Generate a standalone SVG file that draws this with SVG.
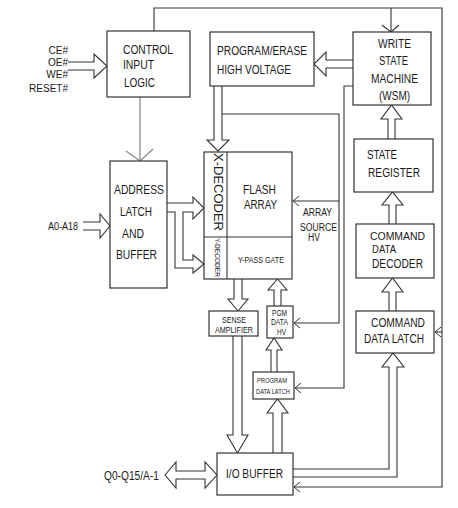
<svg xmlns="http://www.w3.org/2000/svg" width="458" height="508" viewBox="0 0 458 508">
<style>
.box{fill:#fff;stroke:#333;stroke-width:1.2}
.ha{fill:#fff;stroke:#333;stroke-width:1.1;stroke-linejoin:miter}
.ln{fill:none;stroke:#333;stroke-width:1.1}
.lg{fill:none;stroke:#8a8a8a;stroke-width:1.3}
text{font-family:"Liberation Sans",Arial,sans-serif;fill:#1a1a1a}
.b{font-size:12.5px}
.b2{font-size:11.5px}
.m{font-size:10px}
.s{font-size:8.5px}
.xs{font-size:7px}
</style>
<defs>
<marker id="oa" viewBox="-7 -6 8 12" refX="0" refY="0" markerWidth="8" markerHeight="12" markerUnits="userSpaceOnUse" orient="auto">
<path d="M-6,-5 L0,0 L-6,5" fill="none" stroke="#333" stroke-width="1"/>
</marker>
</defs>
<rect width="458" height="508" fill="#fff"/>

<g id="connectors">
<path class="ln" d="M154,31 V8 H442 V487 H294" marker-end="url(#oa)"/>
<path class="ln" d="M391,8 V31"/>
<polyline class="ln" points="382,25 391,32 399,25"/>
<path class="lg" d="M140,97 V160"/>
<polyline class="lg" points="126,151 140,161 153,149"/>
<path class="ln" d="M222,114 H339 V323 H294" marker-end="url(#oa)"/>
<path class="ln" d="M339,201 H293" marker-end="url(#oa)"/>
<path class="ln" d="M353,86 H344 V388 H295" marker-end="url(#oa)"/>
<path class="ln" d="M442,332 H435" marker-end="url(#oa)"/>
<path class="ha" d="M68,62 H94 V54 L107,66 L94,78 V70 H68"/>
<path class="ha" d="M353,60 H326 V52 L314,64 L326,76 V68 H353"/>
<path class="ha" d="M214,86 V140 H207 L218,151 L229,140 H222 V86"/>
<path class="ha" d="M83,222 H100 V214 L110,226 L100,238 V230 H83"/>
<path class="ha" d="M167,203 H193 V197 L204,208 L193,219 V212 H183 V260 H193 V255 L204,264 L193,273 V268 H175 V212 H167"/>
<path class="ha" d="M234,279 V299 H228 L238,311 L248,299 H242 V279"/>
<path class="ha" d="M274,306 V290 H268 L277.5,279 L287,290 H281 V306"/>
<path class="ha" d="M271,372 V350 H266 L274,338 L282,350 H277 V372"/>
<path class="ha" d="M273,453 V413 H267 L277.5,399 L288,413 H282 V453"/>
<path class="ha" d="M233,336 V435 H227 L237.5,453 L248,435 H242 V336"/>
<path class="ha" d="M165,475 L176,462 V471 H205 V462 L217,475 L205,488 V479 H176 V488 Z"/>
<path class="ha" d="M293,469 H389 V367 H382 L393,353 L404,367 H397 V477 H293"/>
<path class="ha" d="M389,311 V292 H382 L392.5,278 L403,292 H396 V311"/>
<path class="ha" d="M389,224 V205 H382 L392.5,192 L403,205 H396 V224"/>
<path class="ha" d="M388,139 V119 H381 L391.5,105 L402,119 H395 V139"/>
</g>

<g id="control-input-logic">
<rect class="box" x="107" y="31" width="83" height="66"/>
<text class="b" x="123" y="54" textLength="50" lengthAdjust="spacingAndGlyphs">CONTROL</text>
<text class="b" x="123" y="69" textLength="31" lengthAdjust="spacingAndGlyphs">INPUT</text>
<text class="b" x="124" y="87" textLength="31" lengthAdjust="spacingAndGlyphs">LOGIC</text>
</g>
<g id="control-signals">
<text class="m" x="68" y="54" text-anchor="end">CE#</text>
<text class="m" x="68" y="66" text-anchor="end">OE#</text>
<text class="m" x="68" y="78" text-anchor="end">WE#</text>
<text class="m" x="68" y="92" text-anchor="end">RESET#</text>
</g>
<g id="program-erase-hv">
<rect class="box" x="210" y="32" width="104" height="54"/>
<text class="b" x="217" y="55" textLength="90" lengthAdjust="spacingAndGlyphs">PROGRAM/ERASE</text>
<text class="b" x="217" y="74" textLength="74" lengthAdjust="spacingAndGlyphs">HIGH VOLTAGE</text>
</g>
<g id="wsm">
<rect class="box" x="353" y="32" width="78" height="73"/>
<text class="b" x="394.5" y="48" text-anchor="middle" textLength="33" lengthAdjust="spacingAndGlyphs">WRITE</text>
<text class="b" x="393.5" y="65" text-anchor="middle" textLength="29" lengthAdjust="spacingAndGlyphs">STATE</text>
<text class="b" x="394.5" y="83" text-anchor="middle" textLength="47" lengthAdjust="spacingAndGlyphs">MACHINE</text>
<text class="b" x="394.5" y="100" text-anchor="middle" textLength="31" lengthAdjust="spacingAndGlyphs">(WSM)</text>
</g>
<g id="state-register">
<rect class="box" x="354" y="139" width="79" height="53"/>
<text class="b" x="367" y="159" textLength="30" lengthAdjust="spacingAndGlyphs">STATE</text>
<text class="b" x="368" y="177" textLength="52" lengthAdjust="spacingAndGlyphs">REGISTER</text>
</g>
<g id="command-data-decoder">
<rect class="box" x="356" y="224" width="78" height="54"/>
<text class="b2" x="370" y="239.5" textLength="55" lengthAdjust="spacingAndGlyphs">COMMAND</text>
<text class="b2" x="372" y="253" textLength="24" lengthAdjust="spacingAndGlyphs">DATA</text>
<text class="b" x="372" y="268" textLength="51" lengthAdjust="spacingAndGlyphs">DECODER</text>
</g>
<g id="command-data-latch">
<rect class="box" x="356" y="311" width="78" height="42"/>
<text class="b" x="371" y="327" textLength="54" lengthAdjust="spacingAndGlyphs">COMMAND</text>
<text class="b" x="364" y="343" textLength="60" lengthAdjust="spacingAndGlyphs">DATA LATCH</text>
</g>
<g id="address-latch">
<rect class="box" x="110" y="161" width="57" height="127"/>
<text class="b" x="114" y="194" textLength="50" lengthAdjust="spacingAndGlyphs">ADDRESS</text>
<text class="b" x="120" y="216" textLength="32" lengthAdjust="spacingAndGlyphs">LATCH</text>
<text class="b" x="122" y="238" textLength="22" lengthAdjust="spacingAndGlyphs">AND</text>
<text class="b" x="116" y="259" textLength="41" lengthAdjust="spacingAndGlyphs">BUFFER</text>
</g>
<g id="address-input">
<text class="m" x="48" y="230" textLength="30" lengthAdjust="spacingAndGlyphs">A0-A18</text>
</g>
<g id="flash-array">
<rect class="box" x="204" y="152" width="88" height="127"/>
<path class="ln" d="M227,152 V279 M204,237 H292"/>
<text class="b" transform="translate(214,153) rotate(90)" x="0" y="0" textLength="78" lengthAdjust="spacingAndGlyphs">X-DECODER</text>
<text class="xs" transform="translate(215,238) rotate(90)" x="0" y="0" textLength="39" lengthAdjust="spacingAndGlyphs">Y-DECODER</text>
<text class="b" x="243" y="194" textLength="33" lengthAdjust="spacingAndGlyphs">FLASH</text>
<text class="b" x="244" y="209" textLength="33" lengthAdjust="spacingAndGlyphs">ARRAY</text>
<text class="s" x="238" y="263" textLength="46" lengthAdjust="spacingAndGlyphs">Y-PASS GATE</text>
</g>
<g id="array-source-hv">
<text class="m" x="303" y="216" textLength="29" lengthAdjust="spacingAndGlyphs">ARRAY</text>
<text class="m" x="300" y="231" textLength="37" lengthAdjust="spacingAndGlyphs">SOURCE</text>
<text class="m" x="308" y="241" textLength="12" lengthAdjust="spacingAndGlyphs">HV</text>
</g>
<g id="sense-amplifier">
<rect class="box" x="209" y="311" width="49" height="25"/>
<text class="s" x="222" y="323" textLength="24" lengthAdjust="spacingAndGlyphs">SENSE</text>
<text class="s" x="215" y="333" textLength="38" lengthAdjust="spacingAndGlyphs">AMPLIFIER</text>
</g>
<g id="pgm-data-hv">
<rect class="box" x="267" y="306" width="26" height="32"/>
<text class="s" x="272" y="316" textLength="15" lengthAdjust="spacingAndGlyphs">PGM</text>
<text class="s" x="271" y="325" textLength="17" lengthAdjust="spacingAndGlyphs">DATA</text>
<text class="s" x="277" y="335" textLength="9" lengthAdjust="spacingAndGlyphs">HV</text>
</g>
<g id="program-data-latch">
<rect class="box" x="253" y="372" width="41" height="27"/>
<text class="xs" x="257" y="383" textLength="30" lengthAdjust="spacingAndGlyphs">PROGRAM</text>
<text class="xs" x="256" y="394" textLength="34" lengthAdjust="spacingAndGlyphs">DATA LATCH</text>
</g>
<g id="io-buffer">
<rect class="box" x="217" y="453" width="76" height="42"/>
<text class="b" x="226" y="478" textLength="57" lengthAdjust="spacingAndGlyphs">I/O BUFFER</text>
</g>
<g id="data-io">
<text class="b" x="104" y="480" textLength="55" lengthAdjust="spacingAndGlyphs">Q0-Q15/A-1</text>
</g>
</svg>
